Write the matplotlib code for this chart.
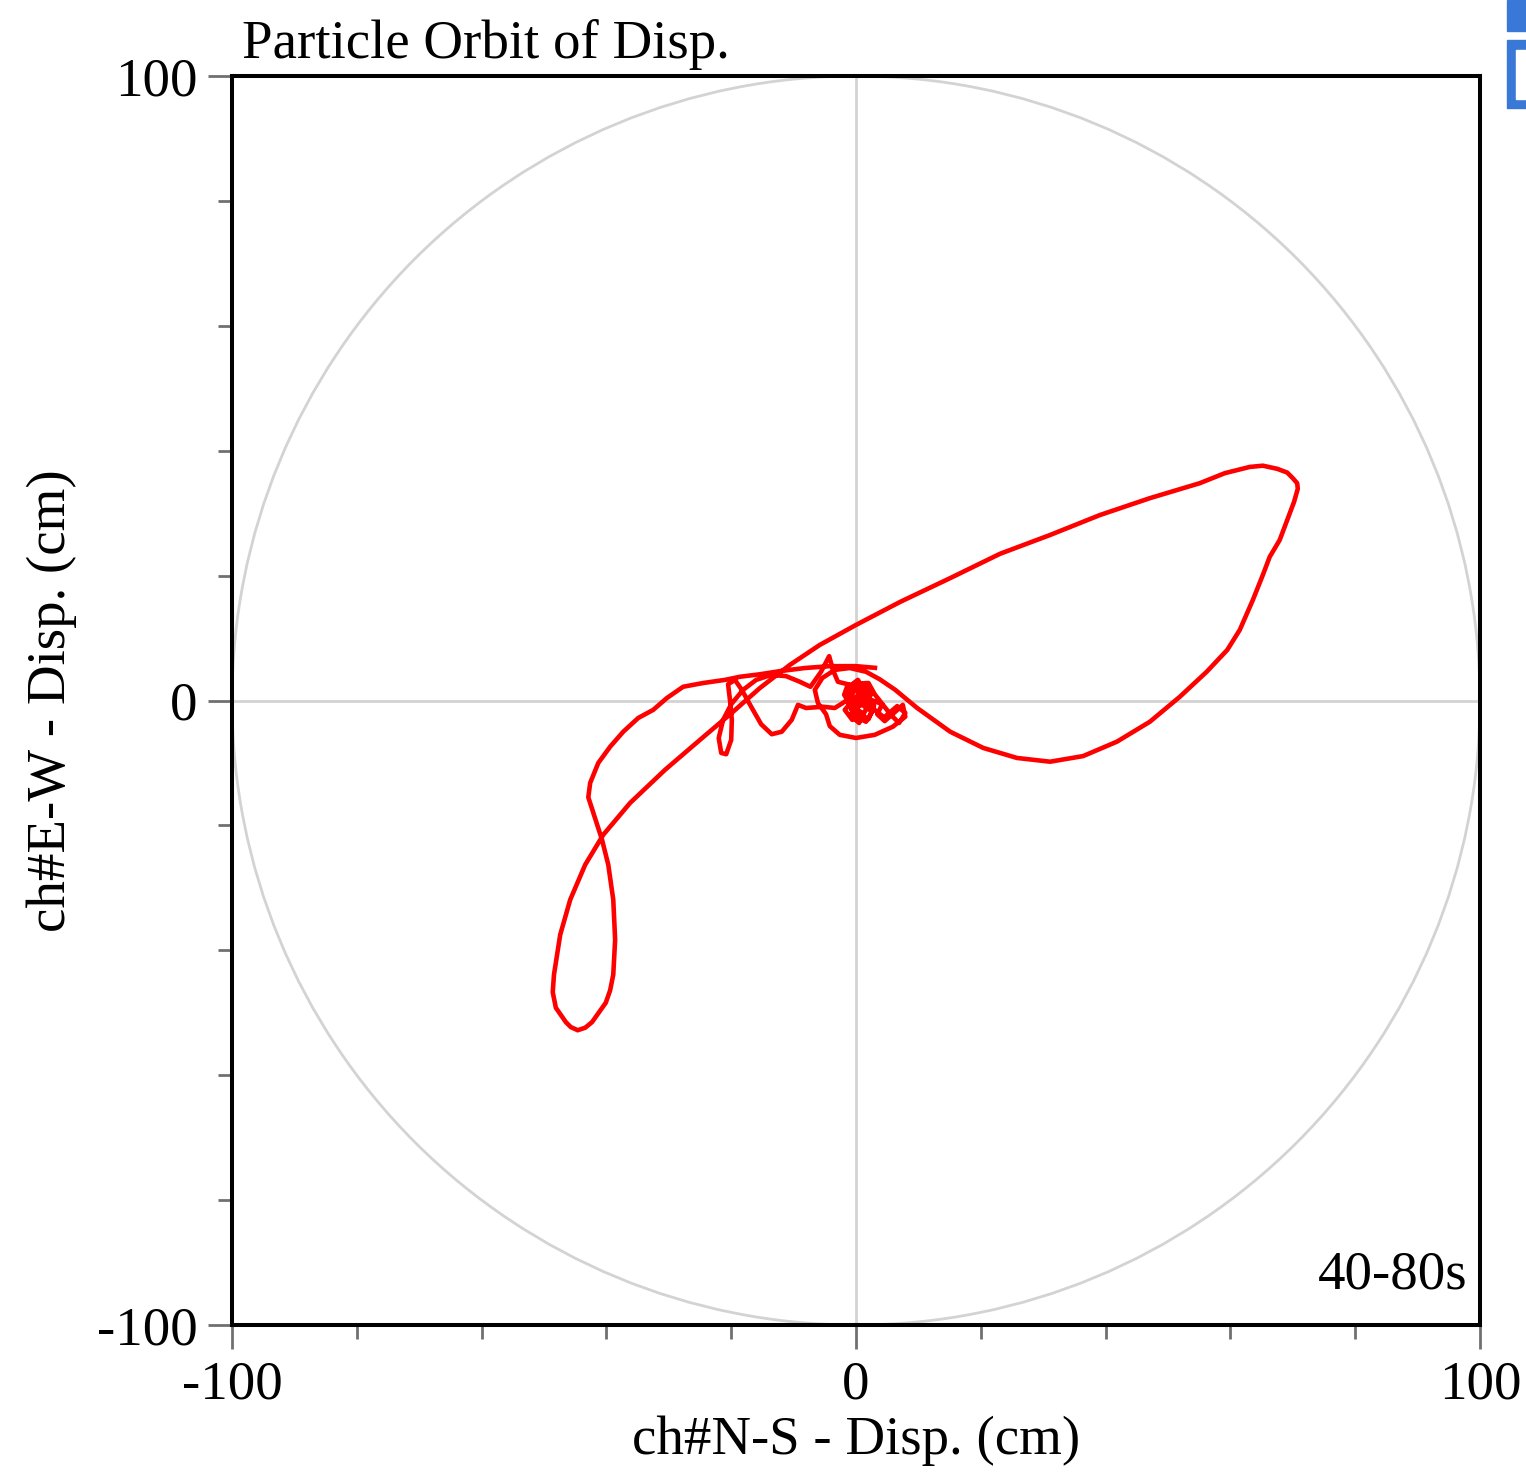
import numpy as np
import matplotlib
matplotlib.use("Agg")
import matplotlib.pyplot as plt
from matplotlib.patches import Circle, Rectangle

# 字体: Times 风格
plt.rcParams['font.family'] = ['Liberation Serif', 'DejaVu Serif']

# 质点轨迹 (cm), 40-80s
ns_disp = [3.4, 0.0, -4.2, -8.2, -12.2, -15.4, -18.6, -21.0, -24.5, -27.7,
           -30.3, -32.5, -34.9, -37.3, -39.4, -41.3, -42.6, -42.9, -42.0, -40.7,
           -39.7, -38.9, -38.6, -38.9, -39.4, -40.1, -42.3, -43.4, -44.6, -45.7,
           -46.5, -48.1, -48.6, -48.4,
           -47.4, -45.8, -43.4, -40.5, -36.2, -30.6, -25.0, -19.7, -15.4, -10.6,
           -5.8, 0.0, 7.1, 15.1, 23.1, 31.1, 39.1, 47.1, 55.1, 59.1,
           63.1, 65.2, 67.5, 69.1, 70.0, 70.7, 70.8, 70.2, 69.1, 67.9, 66.3, 65.2, 63.6,
           61.5, 59.5, 56.2, 51.9, 47.1, 41.8, 36.4, 31.1, 25.8, 20.4,
           15.1, 9.8, 6.3, 3.8, 1.6, -1.0, -3.4, -5.4, -6.6, -6.1,
           -4.8, -4.2, -2.6, 0.0, 3.0, 5.9, 7.9, 7.5, 6.3, 4.6,
           3.4, 4.2, 2.2, 0.6, -1.3, -1.9, -0.6, 1.0, -0.6, -1.8,
           -0.2, 1.3, 0.3, -1.4, -1.1, 1.0, 2.4, 1.6, -0.2, -1.3,
           -0.2, 1.6, 2.6, 1.0, -0.8, -1.1, 0.3, 1.9, 1.0,
           1.8, 0.5, -0.9, 0.8, 2.9, 2.0, 0.2, -1.6, 0.0, 2.0,
           3.0, 5.5, 6.9, 7.9, 6.6, 4.5, 1.0, -1.8,
           -3.4, -5.3, -8.0, -9.3, -10.3, -11.9, -13.5, -15.2, -16.8, -18.3,
           -19.4, -20.5, -20.2, -19.9, -20.0, -20.8, -21.6, -22.0, -21.3, -20.0,
           -18.1, -16.0, -13.6, -11.2, -9.0, -7.3, -5.6, -4.3, -3.7, -2.9,
           -1.3, 0.0, 1.0]
ew_disp = [5.2, 5.5, 5.5, 5.2, 4.7, 4.2, 3.8, 3.3, 2.8, 2.2,
           0.4, -1.5, -2.8, -5.0, -7.4, -10.0, -13.2, -15.5, -18.3, -22.3,
           -26.3, -31.9, -38.3, -43.9, -46.4, -48.4, -51.5, -52.4, -52.8, -52.3,
           -51.5, -49.2, -46.7, -43.9,
           -37.5, -31.9, -26.3, -21.5, -16.4, -11.1, -6.3, -1.8, 2.0, 5.7,
           8.9, 12.1, 15.8, 19.6, 23.5, 26.5, 29.7, 32.4, 34.8, 36.4,
           37.4, 37.6, 37.1, 36.5, 35.6, 34.8, 33.9, 31.8, 28.9, 25.7, 23.0, 20.1, 16.1,
           11.3, 8.1, 4.6, 0.6, -3.4, -6.6, -8.9, -9.8, -9.2, -7.6,
           -5.0, -1.2, 1.7, 3.4, 4.6, 5.2, 4.9, 3.6, 1.7, -0.4,
           -2.2, -4.1, -5.5, -6.0, -5.5, -4.2, -2.6, -0.7, -1.8, -3.3,
           -2.2, -0.6, 0.2, 2.0, 2.6, 0.9, -0.9, -2.0, -3.1, -1.5,
           0.4, 1.7, 3.3, 2.0, -0.1, -0.4, 0.9, 2.6, 1.7, -0.2,
           -2.5, -3.4, -1.8, -0.7, -1.4, 0.9, 2.2, 1.2, 0.1,
           -1.0, -3.6, -2.4, 0.5, -0.8, -3.0, -1.8, 0.3, 2.7, 2.8,
           1.0, -2.2, -3.6, -2.0, -0.9, -2.7, 0.1, -0.2,
           -1.2, -1.0, -1.2, -0.7, -3.1, -5.0, -5.4, -3.8, -1.0, 1.7,
           3.3, 2.6, 0.1, -3.1, -6.3, -8.6, -8.4, -6.0, -3.1, -0.6,
           1.7, 3.3, 4.1, 3.9, 3.0, 2.2, 4.6, 7.1, 4.9, 3.0,
           2.6, 1.7, 0.6]

major_ticks = [-100, 0, 100]
minor_ticks = [-80, -60, -40, -20, 20, 40, 60, 80]
tick_labels = ['-100', '0', '100']

W, H = 1526, 1479
fig = plt.figure(figsize=(W / 100, H / 100), dpi=100)
ax = fig.add_axes([232 / W, 1 - 1325 / H, 1248 / W, 1249 / H])

# 参考圆与十字线
grid_c = '#d3d3d3'
ax.add_patch(Circle((0, 0), 100, fill=False, edgecolor=grid_c, lw=2, zorder=1))
ax.axhline(0, color=grid_c, lw=2, zorder=1)
ax.axvline(0, color=grid_c, lw=2, zorder=1)

# 轨迹
ax.plot(ns_disp, ew_disp, color='#ff0000', lw=3.3,
        solid_joinstyle='round', solid_capstyle='butt', zorder=3)

ax.set_xlim(-100, 100)
ax.set_ylim(-100, 100)
ax.set_xticks(major_ticks)
ax.set_xticklabels(tick_labels)
ax.set_yticks(major_ticks)
ax.set_yticklabels(tick_labels)
ax.set_xticks(minor_ticks, minor=True)
ax.set_yticks(minor_ticks, minor=True)
ax.tick_params(which='both', direction='out', color='#707070', width=2,
               labelsize=39.5, pad=8)
ax.tick_params(which='major', length=17)
ax.tick_params(which='minor', length=10)

for s in ax.spines.values():
    s.set_linewidth(2.9)
    s.set_color('black')
    s.set_zorder(4)

ax.set_xlabel('ch#N-S - Disp. (cm)', fontsize=39.5, labelpad=4)
ax.set_ylabel('ch#E-W - Disp. (cm)', fontsize=39.5, labelpad=14)

fig.text(242 / W, 1 - 58 / H, 'Particle Orbit of Disp.', fontsize=39.5,
         ha='left', va='baseline')
ax.text(0.99, 0.04, '40-80s', transform=ax.transAxes, fontsize=39.5,
        ha='right', va='center')

# 右上角的按钮边
blue = '#3a78d8'
fig.patches.append(Rectangle((1507 / W, 1 - 31 / H), 19 / W, 31 / H,
                             transform=fig.transFigure, color=blue))
fig.patches.append(Rectangle((1507 / W, 1 - 108 / H), 19 / W, 68 / H,
                             transform=fig.transFigure, color=blue))
fig.patches.append(Rectangle((1516 / W, 1 - 99 / H), 10 / W, 49 / H,
                             transform=fig.transFigure, color='white'))

fig.savefig('out.png', dpi=100)
